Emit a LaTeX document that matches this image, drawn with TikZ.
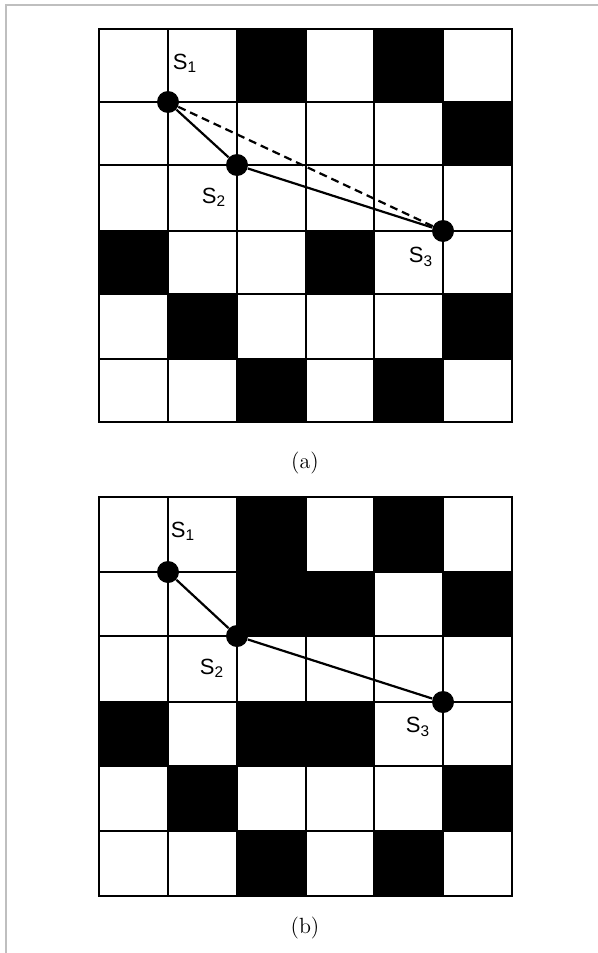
\documentclass[tikz,border=0pt]{standalone}
\usepackage{fontspec}
\newfontfamily\lblfont{Liberation Sans}
\usetikzlibrary{positioning}
\tikzset{
  cell/.style={fill=black},
  gridline/.style={line width=1.1pt},
  dot/.style={circle,fill=black,inner sep=0pt,minimum size=11pt},
  route/.style={line width=1.1pt},
  guess/.style={line width=1.1pt,dash pattern=on 4pt off 2.5pt},
  lbl/.style={font=\lblfont\fontsize{11}{12}\selectfont,inner sep=0pt},
  caption/.style={font=\fontsize{11}{13}\selectfont,inner sep=0pt},
  frame/.style={draw=gray!50,line width=1pt}
}

\begin{document}
\begin{tikzpicture}[x=0.5pt,y=-0.5pt]
\useasboundingbox (0,0) rectangle (598,953);
\draw[frame] (598,5) -- (6,5) -- (6,953);
% column lines, same for both grids
\foreach \xx [count=\c from 0] in {99,168,237,306,374,443,512}
  \coordinate (c\c) at (\xx,0);

% (a)
\foreach \yy [count=\r from 0] in {29,102,165,231,294,359,422}
  \coordinate (a\r) at (0,\yy);
\foreach \ci/\ri [evaluate=\ci as \cn using int(\ci+1),evaluate=\ri as \rn using int(\ri+1)] in
  {2/0,4/0,5/1,0/3,3/3,1/4,5/4,2/5,4/5}
  \fill[cell] (c\ci |- a\ri) rectangle (c\cn |- a\rn);
\foreach \c in {1,...,5} \draw[gridline] (c\c |- a0) -- (c\c |- a6);
\foreach \r in {1,...,5} \draw[gridline] (c0 |- a\r) -- (c6 |- a\r);
\draw[gridline] (c0 |- a0) rectangle (c6 |- a6);
\node[dot] (a-s1) at (c1 |- a1) {};
\node[dot] (a-s2) at (c2 |- a2) {};
\node[dot] (a-s3) at (c5 |- a3) {};
\draw[route] (a-s1) -- (a-s2) -- (a-s3);
\draw[guess] (a-s1) -- (a-s3);
\node[lbl] (a-l1) at (185,63) {S\textsubscript{1}};
\node[lbl] (a-l2) at (214,197) {S\textsubscript{2}};
\node[lbl] (a-l3) at (421,257) {S\textsubscript{3}};
\node[caption] (a-cap) at (305,463) {(a)};

% (b)
\foreach \yy [count=\r from 0] in {497,572,636,702,766,831,896}
  \coordinate (b\r) at (0,\yy);
\foreach \ci/\ri [evaluate=\ci as \cn using int(\ci+1),evaluate=\ri as \rn using int(\ri+1)] in
  {2/0,4/0,2/1,3/1,5/1,0/3,2/3,3/3,1/4,5/4,2/5,4/5}
  \fill[cell] (c\ci |- b\ri) rectangle (c\cn |- b\rn);
\foreach \c in {1,...,5} \draw[gridline] (c\c |- b0) -- (c\c |- b6);
\foreach \r in {1,...,5} \draw[gridline] (c0 |- b\r) -- (c6 |- b\r);
\draw[gridline] (c0 |- b0) rectangle (c6 |- b6);
\node[dot] (b-s1) at (c1 |- b1) {};
\node[dot] (b-s2) at (c2 |- b2) {};
\node[dot] (b-s3) at (c5 |- b3) {};
\draw[route] (b-s1) -- (b-s2) -- (b-s3);
\node[lbl] (b-l1) at (183,531) {S\textsubscript{1}};
\node[lbl] (b-l2) at (212,668) {S\textsubscript{2}};
\node[lbl] (b-l3) at (418,727) {S\textsubscript{3}};
\node[caption] (b-cap) at (305,928) {(b)};
\end{tikzpicture}
\end{document}
